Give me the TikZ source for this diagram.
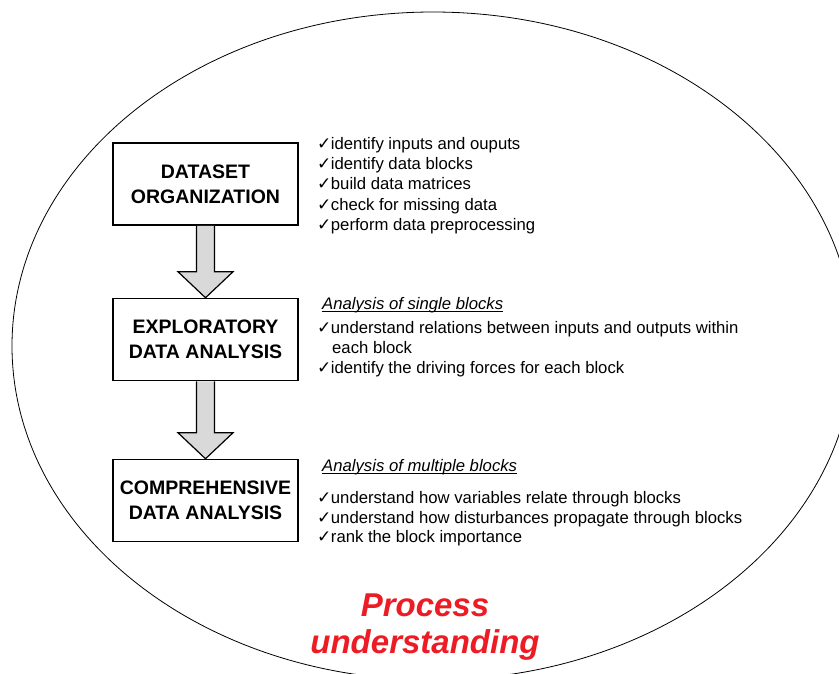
\documentclass[tikz,border=0pt]{standalone}
\usepackage{fontspec}
\setmainfont{Liberation Sans}
\newfontfamily\chkfont{DejaVu Sans}
\usetikzlibrary{calc}
\definecolor{procred}{RGB}{237,28,36}
\definecolor{arrowgray}{RGB}{217,217,217}
\newcommand{\chk}{{\chkfont\fontsize{17}{17}\selectfont ✓}\hspace{-0.5pt}}
\begin{document}
\begin{tikzpicture}[x=1pt,y=-1pt,
  stage/.style={draw, line width=1.5pt, minimum width=185pt, minimum height=82pt,
    align=center, inner sep=0pt, font=\bfseries\fontsize{19.5}{25}\selectfont},
  bul/.style={anchor=base west, inner sep=0pt, font=\fontsize{16.7}{20}\selectfont},
  head/.style={bul, font=\itshape\fontsize{16.7}{20}\selectfont},
  uline/.style={line width=0.9pt},
  flow/.style={draw, line width=1.2pt, fill=arrowgray, line join=miter},
  goal/.style={inner sep=0pt, anchor=base, text=procred,
    font=\bfseries\itshape\fontsize{33}{38}\selectfont},
]
\useasboundingbox (0,0) rectangle (839,673);

% enclosing ellipse, cut by the page edges
\begin{scope}
  \clip (0,0) rectangle (839,673);
  \draw[line width=0.8pt] (433,346) ellipse [x radius=421, y radius=334];
\end{scope}

% the three stages
\node[stage] (org) at (205.5,184)   {DATASET\\ORGANIZATION};
\node[stage] (eda) at (205.5,339.5) {EXPLORATORY\\DATA ANALYSIS};
\node[stage] (cda) at (205.5,500.5) {COMPREHENSIVE\\DATA ANALYSIS};

% block arrows between stages
\draw[flow] ($(org.south)+(-9,0)$) -- ($(eda.north)+(-9,-26)$) -- ($(eda.north)+(-27.5,-26)$)
  -- (eda.north) -- ($(eda.north)+(27.5,-26)$) -- ($(eda.north)+(9,-26)$) -- ($(org.south)+(9,0)$);
\draw[flow] ($(eda.south)+(-9,0)$) -- ($(cda.north)+(-9,-26)$) -- ($(cda.north)+(-27.5,-26)$)
  -- (cda.north) -- ($(cda.north)+(27.5,-26)$) -- ($(cda.north)+(9,-26)$) -- ($(eda.south)+(9,0)$);

% dataset organization tasks
\node[bul] (t1a) at (317,149) {\chk identify inputs and ouputs};
\node[bul] (t1b) at (317,169) {\chk identify data blocks};
\node[bul] (t1c) at (317,189) {\chk build data matrices};
\node[bul] (t1d) at (317,210) {\chk check for missing data};
\node[bul] (t1e) at (317,230) {\chk perform data preprocessing};

% exploratory analysis
\node[head] (h2) at (322,309) {Analysis of single blocks};
\draw[uline] ($(h2.base west)+(0,2)$) -- ($(h2.base east)+(0,2)$);
\node[bul] (t2a) at (317,333) {\chk understand relations between inputs and outputs within};
\node[bul] (t2b) at (332,353) {each block};
\node[bul] (t2c) at (317,373) {\chk identify the driving forces for each block};

% comprehensive analysis
\node[head] (h3) at (322,471) {Analysis of multiple blocks};
\draw[uline] ($(h3.base west)+(0,2)$) -- ($(h3.base east)+(0,2)$);
\node[bul] (t3a) at (317,503) {\chk understand how variables relate through blocks};
\node[bul] (t3b) at (317,523) {\chk understand how disturbances propagate through blocks};
\node[bul] (t3c) at (317,542) {\chk rank the block importance};

% outcome
\node[goal] (g1) at (425,616) {Process};
\node[goal] (g2) at (425,653) {understanding};
\end{tikzpicture}
\end{document}
